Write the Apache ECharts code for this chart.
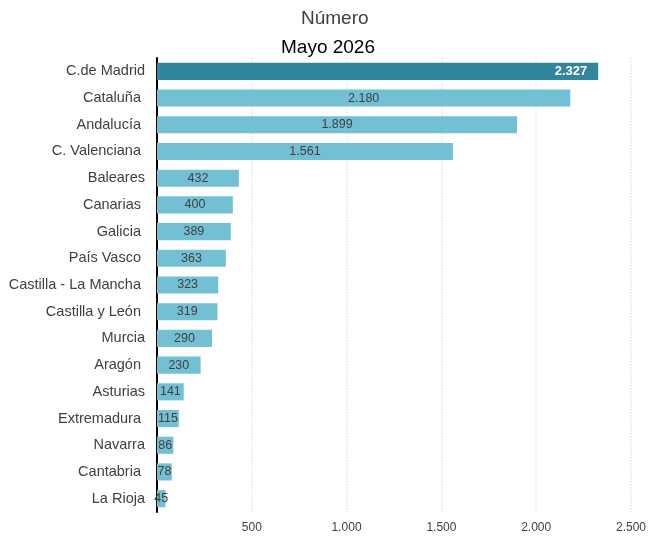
<!DOCTYPE html>
<html>
<head>
<meta charset="utf-8">
<script src="https://cdn.jsdelivr.net/npm/echarts@6/dist/echarts.min.js"></script>
<style>html,body{margin:0;padding:0;background:#fff}#c{width:649px;height:537px}</style>
</head>
<body>
<div id="c"></div>
<script>
const categories = ["C.de Madrid","Cataluña ","Andalucía ","C. Valenciana ","Baleares","Canarias ","Galicia ","País Vasco ","Castilla - La Mancha ","Castilla y León ","Murcia","Aragón ","Asturias","Extremadura ","Navarra","Cantabria ","La Rioja"];
const values = [2327,2180,1899,1561,432,400,389,363,323,319,290,230,141,115,86,78,45];
const xTicks = [500,1000,1500,2000,2500];
const highlightIndex = 0;

const fmt = v => {
  const s = String(Math.round(v));
  return s.replace(/\B(?=(\d{3})+(?!\d))/g, '.');
};

const data = values.map((v, i) => {
  if (i === highlightIndex) {
    return {
      value: v,
      itemStyle: { color: '#31869B' },
      label: { position: 'insideRight', color: '#ffffff', fontWeight: 'bold', fontSize: 13, distance: 11 }
    };
  }
  return { value: v };
});

const chart = echarts.init(document.getElementById('c'));
chart.setOption({
  animation: false,
  textStyle: { fontFamily: 'Liberation Sans, Arial, sans-serif' },
  title: [
    { text: 'Número', left: 296, top: 4, textStyle: { fontSize: 19, fontWeight: 'normal', color: '#404040' } },
    { text: 'Mayo 2026', left: 276, top: 33, textStyle: { fontSize: 19, fontWeight: 'normal', color: '#000000' } }
  ],
  grid: { left: 157, right: 17, top: 58, bottom: 25, containLabel: false },
  xAxis: {
    type: 'value', min: 0, max: 2500, interval: 500,
    axisLine: { show: false }, axisTick: { show: false },
    axisLabel: { showMinLabel: false, color: '#404040', fontSize: 12, margin: 10,
      formatter: v => xTicks.includes(v) ? fmt(v) : '' },
    splitLine: { show: true, lineStyle: { color: '#D3ECF3', type: 'dotted', width: 1.5 } }
  },
  yAxis: {
    type: 'category', data: categories, inverse: true,
    axisLine: { show: true, lineStyle: { color: '#000000', width: 2 } },
    axisTick: { show: false },
    axisLabel: { color: '#404040', fontSize: 14.5, margin: 12 }
  },
  series: [{
    type: 'bar', data: data, barWidth: '64%',
    itemStyle: { color: '#73C0D4' },
    label: { show: true, position: 'inside', color: '#404040', fontSize: 12.5, formatter: p => fmt(p.value) }
  }]
});
</script>
</body>
</html>
